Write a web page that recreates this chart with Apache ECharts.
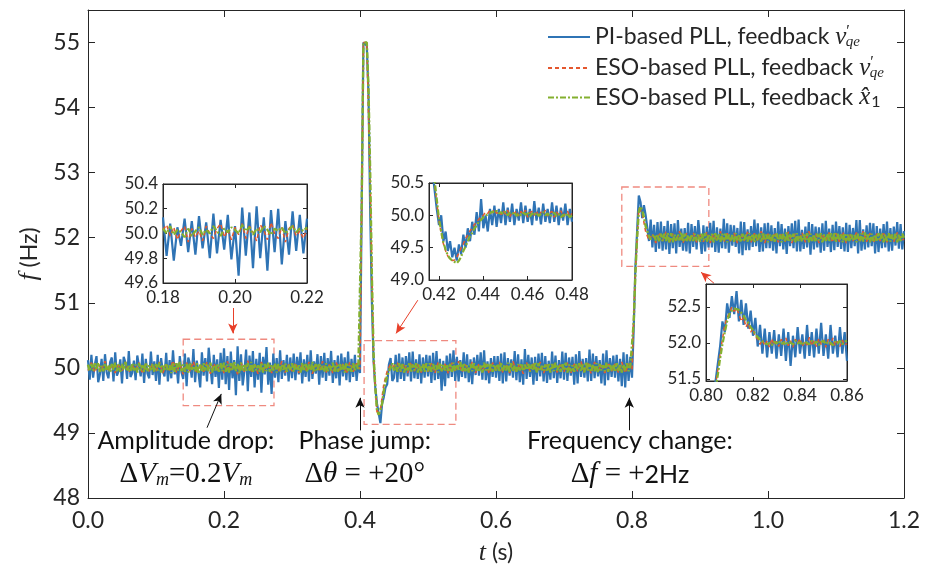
<!DOCTYPE html>
<html><head><meta charset="utf-8">
<script src="https://cdn.jsdelivr.net/npm/echarts@6/dist/echarts.min.js"></script>
<style>html,body{margin:0;padding:0;background:#fff}#c{width:935px;height:571px}</style>
</head><body><div id="c"></div>
<script>
// ---------------- DATA ----------------
// PI-based PLL (blue) and ESO x1-feedback (green) main traces: one row per 0.1 s, samples every 2.5 ms
const rowSpan = 0.1, fineStep = 0.0025;
const piMainRows = [
[50.12,49.82,50.20,49.85,50.05,50.18,49.78,49.90,50.14,49.80,50.21,49.93,49.84,50.09,50.16,49.79,50.24,49.88,49.95,50.13,49.76,50.17,50.08,49.83,50.26,49.86,49.92,50.11,49.81,50.19,50.03,49.87,50.22,49.77,50.14,49.91,49.84,50.25,49.89,50.10],
[49.80,50.20,49.74,50.15,49.95,49.87,50.23,49.79,50.12,49.84,50.27,49.90,50.07,49.76,50.18,49.93,49.83,50.22,49.72,50.16,50.06,49.85,50.29,49.78,50.11,49.92,49.70,50.24,49.88,50.15,49.79,50.31,50.02,49.75,50.20,49.86,50.13,49.69,50.23,49.82],
[50.30,49.75,50.18,49.66,50.25,49.84,50.12,49.58,50.33,49.80,50.21,49.73,49.95,50.28,49.64,50.19,49.86,50.26,49.70,50.14,49.82,50.23,49.62,50.17,49.90,50.32,49.74,50.08,49.60,50.22,49.85,50.15,49.78,50.27,49.83,50.12,49.88,50.20,49.79,50.16],
[49.84,50.22,49.81,50.17,49.90,50.24,49.76,50.13,49.86,50.20,49.79,50.27,49.83,50.10,49.91,50.21,49.74,50.18,49.85,50.23,49.80,50.15,49.88,50.26,49.77,50.12,49.84,50.19,49.73,50.22,49.87,50.16,49.81,50.25,49.78,50.14,49.86,50.20,49.80,50.08],
[49.92,52.50,55.00,55.00,54.95,54.20,52.40,51.00,50.10,49.70,49.45,49.30,49.15,49.45,49.55,49.70,49.75,50.05,50.15,49.80,49.85,50.20,49.78,50.22,49.83,50.16,49.80,50.18,49.87,50.24,49.79,50.25,49.84,50.13,49.83,50.21,49.76,50.16,49.85,50.20],
[49.87,50.19,49.77,50.23,49.81,50.26,49.83,50.14,49.65,50.11,49.72,50.19,49.84,50.22,49.86,50.27,49.80,50.17,49.79,50.12,49.86,50.24,49.84,50.21,49.78,50.13,49.75,50.16,49.89,50.20,49.88,50.24,49.82,50.27,49.81,50.10,49.76,50.15,49.86,50.18],
[49.85,50.18,49.80,50.22,49.76,50.24,49.79,50.15,49.88,50.13,49.85,50.26,49.81,50.21,49.78,50.13,49.74,50.29,49.83,50.20,49.86,50.16,49.74,50.17,49.80,50.22,49.87,50.23,49.79,50.18,49.77,50.11,49.82,50.25,49.84,50.19,49.77,50.12,49.84,50.25],
[49.82,50.23,49.80,50.16,49.88,50.17,49.74,50.21,49.76,50.26,49.86,50.14,49.85,50.15,49.79,50.28,49.80,50.22,49.84,50.18,49.87,50.12,49.76,50.22,49.73,50.27,49.81,50.15,49.86,50.19,49.85,50.20,49.79,50.14,49.72,50.24,49.70,50.21,49.80,50.17],
[49.85,50.60,51.55,52.10,52.65,52.55,52.30,52.50,52.35,52.15,51.95,52.28,51.85,52.20,51.78,52.24,51.83,52.25,51.80,52.18,51.82,52.26,51.75,52.21,51.84,52.22,51.76,52.27,51.86,52.14,51.80,52.15,51.79,52.23,51.76,52.21,51.86,52.18,51.82,52.27],
[52.24,51.75,52.19,51.79,52.17,51.85,52.23,51.85,52.26,51.78,52.16,51.77,52.14,51.84,52.29,51.83,52.22,51.77,52.20,51.88,52.19,51.86,52.15,51.76,52.25,51.73,52.24,51.81,52.13,51.81,52.18,51.86,52.28,51.87,52.22,51.78,52.16,51.79,52.22,51.84],
[52.23,51.84,52.19,51.80,52.15,51.76,52.25,51.87,52.21,51.82,52.14,51.75,52.18,51.87,52.22,51.84,52.26,51.79,52.28,51.79,52.12,51.83,52.17,51.85,52.24,51.74,52.21,51.82,52.17,51.85,52.16,51.77,52.22,51.80,52.26,51.86,52.14,51.78,52.20,51.81],
[52.25,51.86,52.18,51.83,52.16,51.79,52.23,51.78,52.20,51.84,52.15,51.87,52.27,51.76,52.27,51.80,52.13,51.82,52.19,51.85,52.23,51.87,52.22,51.76,52.18,51.78,52.14,51.84,52.21,51.85,52.25,51.79,52.15,51.80,52.17,51.88,52.24,51.83,52.21,51.82],
[52.10]];
const esoXMainRows = [
[50.05,49.95,50.06,49.96,50.07,49.97,50.08,49.94,50.03,49.95,50.07,49.96,50.04,49.93,50.06,49.97,50.08,49.95,50.05,49.94,50.06,49.97,50.09,49.95,50.03,49.94,50.07,49.96,50.05,49.93,50.07,49.96,50.04,49.94,50.08,49.95,50.05,49.97,50.06,49.94],
[50.06,49.96,50.08,49.93,50.05,49.97,50.07,49.95,50.04,49.92,50.08,49.94,50.07,49.96,50.09,49.95,50.05,49.94,50.06,49.93,50.08,49.97,50.03,49.95,50.07,49.91,50.05,49.94,50.07,49.96,50.06,49.95,50.08,49.93,50.04,49.96,50.06,49.94,50.07,49.95],
[50.08,49.94,50.05,49.93,50.07,49.96,50.10,49.95,50.06,49.92,50.08,49.96,50.06,49.94,50.07,49.95,50.09,49.93,50.05,49.96,50.04,49.94,50.08,49.93,50.06,49.95,50.08,49.94,50.05,49.96,50.07,49.93,50.06,49.95,50.05,49.97,50.07,49.94,50.05,49.96],
[50.07,49.94,50.05,49.96,50.04,49.93,50.08,49.95,50.06,49.94,50.05,49.96,50.09,49.93,50.06,49.95,50.07,49.97,50.03,49.94,50.07,49.95,50.05,49.96,50.08,49.93,50.05,49.94,50.07,49.96,50.05,49.93,50.08,49.95,50.04,49.94,50.07,49.96,50.05,49.97],
[50.00,52.50,55.00,55.00,55.00,54.30,53.00,51.40,50.20,49.70,49.35,49.28,49.30,49.45,49.65,49.78,49.88,49.95,50.00,50.07,49.96,50.05,49.94,50.07,49.95,50.06,49.93,50.04,49.96,50.08,49.94,50.05,49.96,50.07,49.93,50.05,49.95,50.06,49.94,50.07],
[49.95,50.07,49.94,50.06,49.96,50.04,49.93,50.08,49.95,50.06,49.96,50.05,49.94,50.06,49.93,50.08,49.96,50.05,49.97,50.09,49.94,50.07,49.95,50.04,49.93,50.06,49.95,50.07,49.96,50.03,49.94,50.05,49.93,50.08,49.96,50.06,49.95,50.07,49.94,50.05],
[49.96,50.06,49.94,50.07,49.95,50.05,49.96,50.08,49.93,50.07,49.95,50.04,49.94,50.06,49.96,50.07,49.95,50.05,49.97,50.06,49.94,50.05,49.96,50.09,49.93,50.07,49.95,50.03,49.96,50.05,49.94,50.07,49.93,50.06,49.95,50.08,49.96,50.05,49.94,50.07],
[49.96,50.08,49.93,50.05,49.95,50.04,49.94,50.06,49.96,50.07,49.95,50.05,49.93,50.09,49.96,50.06,49.94,50.05,49.95,50.07,49.93,50.06,49.96,50.04,49.95,50.08,49.94,50.06,49.96,50.05,49.94,50.07,49.95,50.06,49.93,50.05,49.96,50.07,49.95,50.03],
[50.00,50.70,51.45,52.00,52.40,52.48,52.42,52.32,52.18,52.10,52.02,51.98,51.97,52.05,51.96,52.05,51.94,52.06,51.95,52.06,51.95,52.07,51.93,52.07,51.93,52.05,51.96,52.05,51.96,52.08,51.94,52.06,51.94,52.04,51.95,52.05,51.95,52.06,51.96,52.05],
[51.94,52.06,51.96,52.07,51.94,52.05,51.96,52.06,51.93,52.07,51.95,52.05,51.94,52.06,51.96,52.08,51.93,52.05,51.95,52.04,51.94,52.07,51.96,52.05,51.93,52.06,51.95,52.05,51.94,52.07,51.96,52.06,51.93,52.05,51.95,52.06,51.94,52.08,51.96,52.05],
[51.93,52.05,51.95,52.06,51.94,52.07,51.96,52.05,51.93,52.06,51.95,52.08,51.94,52.05,51.96,52.06,51.93,52.07,51.95,52.04,51.94,52.05,51.96,52.07,51.93,52.06,51.95,52.05,51.94,52.06,51.96,52.07,51.93,52.05,51.95,52.06,51.94,52.07,51.96,52.08],
[51.94,52.06,51.96,52.05,51.93,52.07,51.95,52.06,51.94,52.05,51.96,52.04,51.93,52.06,51.95,52.07,51.94,52.08,51.96,52.05,51.93,52.06,51.95,52.05,51.94,52.07,51.96,52.06,51.93,52.05,51.95,52.07,51.94,52.05,51.96,52.06,51.93,52.05,51.95,52.06],
[52.00]];
// ESO v'qe-feedback (red) main trace, sampled every 5 ms from t = 0 s
const esoVStep = 0.005;
const esoVMain = [
49.96,50.08,49.93,50.06,49.97,50.10,49.94,50.05,49.92,50.07,49.95,50.09,49.93,50.04,49.96,50.08,49.91,50.06,49.95,50.07,
49.94,50.09,49.92,50.05,49.96,50.11,49.93,50.06,49.90,50.08,49.95,50.10,49.92,50.05,49.94,50.09,49.91,50.07,49.96,50.06,
49.92,50.10,49.95,50.06,49.90,50.08,49.94,50.11,49.93,50.05,49.91,50.09,49.95,50.07,49.92,50.06,49.94,50.10,49.93,50.05,
49.95,50.08,49.92,50.06,49.94,50.09,49.91,50.07,49.95,50.10,49.93,50.05,49.92,50.08,49.96,50.06,49.91,50.09,49.94,50.07,
49.98,55.00,55.00,52.80,50.10,49.32,49.35,49.75,49.95,50.06,50.02,50.08,49.94,50.06,49.92,50.09,49.95,50.05,49.93,50.08,
49.94,50.07,49.92,50.09,49.95,50.06,49.91,50.08,49.94,50.10,49.93,50.05,49.95,50.09,49.92,50.07,49.94,50.06,49.91,50.08,
49.95,50.09,49.93,50.06,49.92,50.10,49.94,50.07,49.91,50.08,49.95,50.06,49.93,50.09,49.92,50.05,49.94,50.08,49.93,50.07,
49.94,50.08,49.92,50.06,49.95,50.10,49.93,50.07,49.91,50.09,49.94,50.05,49.92,50.08,49.95,50.06,49.93,50.09,49.92,50.06,
49.98,51.50,52.45,52.38,52.10,51.96,52.06,51.92,52.08,51.95,52.09,51.93,52.06,51.94,52.10,51.92,52.07,51.95,52.08,51.93,
52.07,51.94,52.09,51.92,52.06,51.95,52.10,51.93,52.07,51.94,52.08,51.92,52.06,51.95,52.09,51.93,52.07,51.94,52.10,51.92,
52.06,51.95,52.08,51.93,52.07,51.94,52.09,51.92,52.06,51.95,52.08,51.93,52.10,51.94,52.07,51.92,52.06,51.95,52.08,51.93,
52.07,51.94,52.09,51.92,52.06,51.95,52.08,51.93,52.10,51.94,52.07,51.92,52.06,51.95,52.09,51.93,52.07,51.94,52.08,51.95,
51.98];

// inset traces, sampled every 1 ms
const insetStep = 0.001;
const inset1T0 = 0.180;
const piInset1 = [
50.13,49.82,50.08,49.78,50.05,49.90,50.12,49.85,50.10,49.83,
50.14,49.88,50.09,49.80,50.16,49.84,50.11,49.87,50.15,49.79,
50.06,49.66,50.21,49.82,50.17,49.72,50.22,49.80,50.13,49.70,
50.19,49.85,50.20,49.75,50.10,49.83,50.18,49.86,50.15,49.84,50.12];
const esoVInset1 = [
50.03,50.07,49.98,50.05,49.95,50.02,50.06,49.93,50.04,49.97,
50.02,49.94,50.06,50.00,49.96,50.04,50.08,49.97,50.03,49.95,
50.05,49.99,50.08,49.96,50.06,50.01,49.94,50.07,50.03,49.95,
50.09,50.00,49.96,50.05,49.93,50.04,50.07,49.98,50.02,49.96,50.04];
const esoXInset1 = [
50.04,50.00,50.06,49.99,50.03,50.01,49.97,50.04,49.98,50.02,
50.05,49.99,50.03,50.00,50.06,50.02,49.98,50.04,50.01,50.05,
50.03,50.00,50.07,50.02,50.05,49.99,50.04,50.01,50.06,50.03,
49.99,50.04,50.02,50.05,50.00,50.03,50.06,50.01,50.04,50.02,50.05];

const inset2T0 = 0.416;
const piInset2 = [
50.90,50.70,50.40,50.10,49.85,50.00,49.60,49.75,49.45,49.60,
49.35,49.50,49.30,49.55,49.40,49.70,49.50,49.80,49.60,49.90,
49.70,50.05,49.75,50.25,49.80,50.00,49.75,50.10,49.85,50.15,
49.82,50.10,49.88,50.20,49.85,50.12,49.90,50.18,49.85,50.10,
49.92,50.20,49.88,50.15,49.90,50.10,49.85,50.22,49.92,50.12,
49.86,50.18,49.90,50.10,49.88,50.20,49.90,50.15,49.85,50.12,
49.92,50.18,49.85,50.10,49.90];
const esoVInset2 = [
51.10,50.80,50.50,50.20,49.92,49.72,49.56,49.45,49.37,49.32,
49.30,49.31,49.35,49.42,49.50,49.56,49.64,49.70,49.76,49.80,
49.86,49.90,49.94,49.98,50.00,50.05,50.03,50.08,50.04,50.09,
50.03,50.06,50.01,50.07,50.02,50.08,49.98,50.05,50.03,50.07,
49.99,50.06,50.02,50.08,49.97,50.04,50.06,50.00,50.07,49.98,
50.05,50.02,50.08,49.99,50.04,50.06,49.97,50.05,50.01,50.07,
49.98,50.04,50.06,49.99,50.03];
const esoXInset2 = [
51.20,50.85,50.55,50.25,49.95,49.75,49.58,49.47,49.38,49.33,
49.30,49.28,49.26,49.30,49.36,49.45,49.52,49.60,49.68,49.73,
49.80,49.84,49.90,49.93,49.97,49.99,50.02,50.03,50.06,50.04,
50.07,50.03,50.05,50.02,50.06,50.00,50.04,50.02,50.05,49.99,
50.03,50.00,50.04,50.01,50.05,49.98,50.03,50.00,50.04,49.99,
50.02,50.05,50.00,50.03,49.98,50.02,50.04,49.99,50.02,49.97,
50.01,49.98,50.03,49.97,50.00];

const inset3T0 = 0.804;
const piInset3 = [
51.45,51.70,51.95,52.30,52.15,52.55,52.35,52.65,52.40,52.72,
52.30,52.60,52.25,52.55,52.20,52.45,52.10,52.35,51.95,52.25,
51.85,52.20,51.80,52.15,51.85,52.18,51.78,52.12,51.82,52.20,
51.75,52.15,51.68,52.10,51.80,52.22,51.85,52.12,51.78,52.25,
51.82,52.15,51.80,52.20,51.85,52.28,51.82,52.12,51.78,52.25,
51.85,52.10,51.80,52.22,51.85,52.15,51.75];
const esoVInset3 = [
51.40,51.62,51.85,52.05,52.25,52.35,52.42,52.50,52.44,52.48,
52.40,52.30,52.36,52.22,52.28,52.15,52.20,52.08,52.06,51.98,
52.04,51.96,52.03,51.94,52.06,51.97,52.02,51.95,52.05,51.98,
52.07,51.96,52.03,51.94,52.05,51.99,52.06,51.95,52.02,51.97,
52.08,51.96,52.03,51.95,52.06,51.98,52.04,51.94,52.05,51.97,
52.07,51.96,52.02,51.95,52.04,51.97,51.99];
const esoXInset3 = [
51.35,51.55,51.78,51.98,52.15,52.30,52.40,52.45,52.48,52.47,
52.46,52.42,52.38,52.32,52.28,52.22,52.18,52.12,52.08,52.05,
52.02,52.00,51.98,52.00,51.97,52.02,51.99,52.03,51.98,52.01,
51.97,52.02,52.00,51.98,52.03,51.99,52.01,51.97,52.02,52.00,
51.98,52.03,51.99,52.02,51.97,52.01,52.03,51.98,52.02,52.00,
51.97,52.02,51.99,52.03,51.98,52.02,52.03];

// axis ranges / ticks
const mainX = {min: 0, max: 1.2, ticks: [0, 0.2, 0.4, 0.6, 0.8, 1.0, 1.2]};
const mainY = {min: 48, max: 55.5, ticks: [48, 49, 50, 51, 52, 53, 54, 55]};
const in1X = {min: 0.18, max: 0.22, ticks: [0.18, 0.20, 0.22]};
const in1Y = {min: 49.6, max: 50.4, ticks: [49.6, 49.8, 50.0, 50.2, 50.4]};
const in2X = {min: 0.4155, max: 0.48, ticks: [0.42, 0.44, 0.46, 0.48]};
const in2Y = {min: 49.0, max: 50.5, ticks: [49.0, 49.5, 50.0, 50.5]};
const in3X = {min: 0.80, max: 0.86, ticks: [0.80, 0.82, 0.84, 0.86]};
const in3Y = {min: 51.47, max: 52.82, ticks: [51.5, 52.0, 52.5]};

// annotation geometry in data units (t, f)
const zoomBoxes = [
  [[0.140, 50.44], [0.2735, 49.42]],
  [[0.406, 50.42], [0.541, 49.13]],
  [[0.785, 52.78], [0.913, 51.56]]
];
const blackArrows = [
  [[0.175, 49.08], [0.196, 49.60]],
  [[0.400, 49.04], [0.400, 49.54]],
  [[0.796, 49.04], [0.796, 49.54]]
];
const redArrows = [
  [[0.213, 50.92], [0.213, 50.53]],
  [[0.485, 51.04], [0.453, 50.53]],
  [[0.9206, 51.30], [0.9015, 51.47]]
];
const annotations = [
  {t: 0.1440, f: 48.87, text: 'Amplitude drop:'},
  {t: 0.1440, f: 48.36, text: '{m|Δ}{i|V}{s|m}{m|=0.2}{i|V}{s|m}'},
  {t: 0.4070, f: 48.87, text: 'Phase jump:'},
  {t: 0.4070, f: 48.36, text: '{m|Δ}{i|θ}{m| = +20°}'},
  {t: 0.7970, f: 48.87, text: 'Frequency change:'},
  {t: 0.7970, f: 48.36, text: '{m|Δ}{i|f}{m| = +}{d|2Hz}'}
];
const legendNames = ['pi', 'esoV', 'esoX'];
const legendText = {
  pi: '{n|PI-based PLL, feedback }{v|v}{p|′}{s|qe}',
  esoV: '{n|ESO-based PLL, feedback }{v|v}{p|′}{s|qe}',
  esoX: '{n|ESO-based PLL, feedback }{v|x̂}{s1|1}'
};

// ---------------- STYLE ----------------
const FONT = 'Lato';
const MATH = 'Liberation Serif';
const INK = '#262626';
const C_BLUE = '#2f74b5', C_RED = '#e4572e', C_GREEN = '#84b02f', C_BOX = '#ef8a80', C_ARROW = '#e8402a';

function toPairs(vals, t0, step) { return vals.map((v, i) => [Math.round((t0 + i * step) * 100000) / 100000, v]); }
function rowsToPairs(rows) { return rows.flatMap((row, r) => toPairs(row, r * rowSpan, fineStep)); }

const chart = echarts.init(document.getElementById('c'), null, {renderer: 'canvas'});

const grids = [
  {left: 88, right: 31, top: 10, bottom: 73, show: false},
  {left: 163, top: 184, width: 144, height: 99, show: true, backgroundColor: '#fff', borderColor: INK, borderWidth: 1, z: 10},
  {left: 429, top: 183, width: 143, height: 97, show: true, backgroundColor: '#fff', borderColor: INK, borderWidth: 1, z: 10},
  {left: 706, top: 284, width: 141, height: 97, show: true, backgroundColor: '#fff', borderColor: INK, borderWidth: 1, z: 10}
];

const xAxes = [], yAxes = [];
function addAxes(gi, xr, yr, opt) {
  const z = gi === 0 ? 0 : 11;
  const common = {type: 'value', gridIndex: gi, splitLine: {show: false}, z: z,
    axisLine: {show: true, onZero: false, lineStyle: {color: INK, width: 1}}};
  const lbl = (fmt, margin, cv) => ({show: true, customValues: cv, formatter: fmt, color: INK, fontFamily: FONT, fontSize: opt.fs, margin: margin});
  const tick = cv => ({show: true, inside: true, length: opt.tl, customValues: cv, lineStyle: {color: INK}});
  xAxes.push(Object.assign({}, common, {min: xr.min, max: xr.max, position: 'bottom',
    axisTick: tick(xr.ticks), axisLabel: lbl(v => v.toFixed(opt.xd), opt.xm, xr.ticks)}, opt.xname || {}));
  xAxes.push(Object.assign({}, common, {min: xr.min, max: xr.max, position: 'top',
    axisTick: tick(xr.ticks), axisLabel: {show: false}}));
  yAxes.push(Object.assign({}, common, {min: yr.min, max: yr.max, position: 'left',
    axisTick: tick(yr.ticks), axisLabel: lbl(v => v.toFixed(opt.yd), opt.ym, yr.ticks)}, opt.yname || {}));
  yAxes.push(Object.assign({}, common, {min: yr.min, max: yr.max, position: 'right',
    axisTick: tick(yr.ticks), axisLabel: {show: false}}));
}
const nameStyle = {fontFamily: FONT, fontSize: 23, color: INK, rich: {i: {fontFamily: MATH, fontStyle: 'italic', fontSize: 26, color: INK}}};
addAxes(0, mainX, mainY, {fs: 23, xd: 1, yd: 0, xm: 11, ym: 8, tl: 7,
  xname: {name: '{i|t} (s)', nameLocation: 'middle', nameGap: 42, nameTextStyle: nameStyle},
  yname: {name: '{i|f} (Hz)', nameLocation: 'middle', nameGap: 41, nameTextStyle: nameStyle}});
addAxes(1, in1X, in1Y, {fs: 17, xd: 2, yd: 1, xm: 6, ym: 5, tl: 4});
addAxes(2, in2X, in2Y, {fs: 17, xd: 2, yd: 1, xm: 6, ym: 5, tl: 4});
addAxes(3, in3X, in3Y, {fs: 17, xd: 2, yd: 1, xm: 6, ym: 5, tl: 4});

const styles = {
  pi: {color: C_BLUE, main: 2.2, inset: 2.2, type: 'solid', z: 2},
  esoV: {color: C_RED, main: 1.6, inset: 1.5, type: [4, 3], z: 3},
  esoX: {color: C_GREEN, main: 2.4, inset: 2.2, type: [6, 2, 2, 2], z: 4}
};
function line(name, data, gi, zAdd) {
  const s = styles[name];
  return {type: 'line', name: name, data: data, xAxisIndex: gi * 2, yAxisIndex: gi * 2,
    showSymbol: false, symbol: 'none', animation: false, clip: true, sampling: null,
    color: s.color, lineStyle: {color: s.color, width: gi === 0 ? s.main : s.inset, type: s.type}, z: s.z + zAdd};
}
const series = [
  line('pi', rowsToPairs(piMainRows), 0, 0),
  line('esoV', toPairs(esoVMain, 0, esoVStep), 0, 0),
  line('esoX', rowsToPairs(esoXMainRows), 0, 0),
  line('pi', toPairs(piInset1, inset1T0, insetStep), 1, 10),
  line('esoV', toPairs(esoVInset1, inset1T0, insetStep), 1, 10),
  line('esoX', toPairs(esoXInset1, inset1T0, insetStep), 1, 10),
  line('pi', toPairs(piInset2, inset2T0, insetStep), 2, 10),
  line('esoV', toPairs(esoVInset2, inset2T0, insetStep), 2, 10),
  line('esoX', toPairs(esoXInset2, inset2T0, insetStep), 2, 10),
  line('pi', toPairs(piInset3, inset3T0, insetStep), 3, 10),
  line('esoV', toPairs(esoVInset3, inset3T0, insetStep), 3, 10),
  line('esoX', toPairs(esoXInset3, inset3T0, insetStep), 3, 10),
  {type: 'line', name: 'annot', data: [], xAxisIndex: 0, yAxisIndex: 0, z: 6, animation: false, silent: true,
    markArea: {silent: true, animation: false,
      itemStyle: {color: 'rgba(0,0,0,0)', borderColor: C_BOX, borderWidth: 1.3, borderType: [7, 4]},
      label: {show: false},
      data: zoomBoxes.map(b => [{coord: b[0]}, {coord: b[1]}])},
    markLine: {silent: true, animation: false, symbol: ['none', 'arrow'], symbolSize: [7, 10], label: {show: false},
      data: blackArrows.map(a => [{coord: a[0], lineStyle: {color: '#111', width: 1, type: 'solid'}, itemStyle: {color: '#111'}}, {coord: a[1]}])
        .concat(redArrows.map(a => [{coord: a[0], lineStyle: {color: C_ARROW, width: 1, type: 'solid'}, itemStyle: {color: C_ARROW}}, {coord: a[1]}]))}}
];

const richLegend = {
  n: {fontFamily: FONT, fontSize: 23, color: INK, lineHeight: 28, verticalAlign: 'middle'},
  v: {fontFamily: MATH, fontStyle: 'italic', fontSize: 25, color: INK, lineHeight: 28, verticalAlign: 'middle'},
  p: {fontFamily: MATH, fontSize: 16, color: INK, lineHeight: 16, verticalAlign: 'top', padding: [1, 0, 0, 0]},
  s: {fontFamily: MATH, fontStyle: 'italic', fontSize: 15, color: INK, lineHeight: 15, verticalAlign: 'bottom', padding: [0, 0, 1, -4]},
  s1: {fontFamily: FONT, fontSize: 16, color: INK, lineHeight: 16, verticalAlign: 'bottom', padding: [0, 0, 2, 1]}
};

chart.setOption({
  backgroundColor: '#fff',
  animation: false,
  grid: grids,
  xAxis: xAxes,
  yAxis: yAxes,
  legend: {data: legendNames, orient: 'vertical', left: 542, top: 18, itemWidth: 42, itemHeight: 12, itemGap: 3,
    itemStyle: {opacity: 0, borderWidth: 0},
    formatter: n => legendText[n], textStyle: {fontFamily: FONT, fontSize: 23, color: INK, rich: richLegend}},
  series: series
});

const annRich = {
  d: {fontFamily: FONT, fontSize: 25, color: '#111', lineHeight: 30, verticalAlign: 'middle'},
  m: {fontFamily: MATH, fontSize: 29, color: '#111', lineHeight: 30, verticalAlign: 'middle'},
  i: {fontFamily: MATH, fontStyle: 'italic', fontSize: 29, color: '#111', lineHeight: 30, verticalAlign: 'middle'},
  s: {fontFamily: MATH, fontStyle: 'italic', fontSize: 18, color: '#111', lineHeight: 18, verticalAlign: 'bottom'}
};
chart.setOption({
  graphic: annotations.map(a => {
    const p = chart.convertToPixel({gridIndex: 0}, [a.t, a.f]);
    return {type: 'text', x: p[0], y: p[1], z: 20, silent: true,
      style: {text: a.text, fill: '#111', font: '25px ' + FONT, align: 'center', verticalAlign: 'middle', rich: annRich}};
  })
});
</script></body></html>
